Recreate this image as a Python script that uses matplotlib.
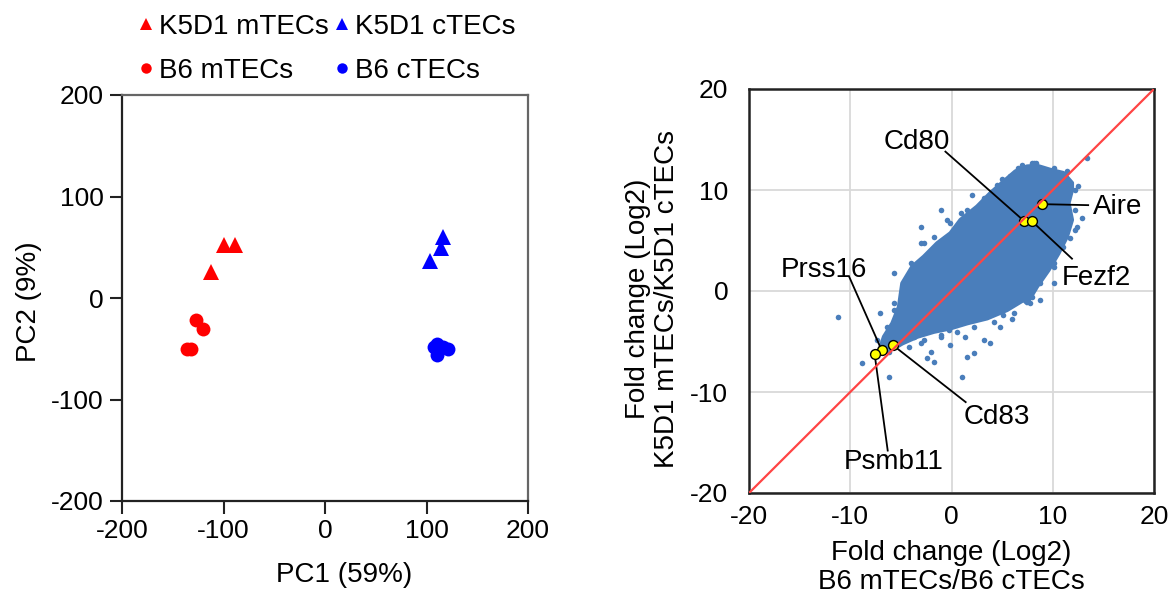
import matplotlib.pyplot as plt

plt.rcParams['font.family'] = ['Liberation Sans', 'DejaVu Sans']
plt.rcParams['axes.unicode_minus'] = False

# PCA scores per sample
k5d1_mtec_pc1 = [-100, -89, -112]
k5d1_mtec_pc2 = [52, 52, 26]
k5d1_ctec_pc1 = [116, 114, 103]
k5d1_ctec_pc2 = [60, 49, 36]
b6_mtec_pc1 = [-127, -120, -136, -132]
b6_mtec_pc2 = [-22, -31, -50, -50]
b6_ctec_pc1 = [110, 121, 110, 116, 107]
b6_ctec_pc2 = [-45, -50, -56, -48, -48]

# dense core of the fold-change cloud (outline, log2 units)
cloud_x = [-7.0, -6.67, -5.84, -5.19, -4.86, -3.87, -2.73, -1.41, -0.1, 0.89, 2.53, 3.84,
           5.15, 6.31, 7.46, 8.44, 9.75, 11.06, 11.9, 11.9, 11.56, 11.9, 11.4, 10.57,
           9.59, 8.44, 7.46, 7.12, 5.49, 3.52, 1.55, -0.1, -1.74, -3.38, -4.86, -5.68]
cloud_y = [-5.52, -4.53, -3.2, -1.56, 0.76, 2.41, 3.4, 4.73, 5.72, 7.04, 8.36, 9.69,
           10.84, 11.84, 12.33, 12.4, 12.0, 11.68, 10.7, 10.0, 8.7, 7.04, 5.39, 3.74,
           2.08, 0.43, -1.22, -0.89, -1.88, -2.71, -3.2, -3.7, -4.04, -4.53, -5.19, -5.68]

# scattered genes around the core
spread_x = [-3.05, -1.08, 2.04, 5.0, 7.95, 13.37, 12.54, 12.88, 12.38, -5.68, -4.04,
            -2.73, -0.1, 0.89, 8.77, 10.08, 11.72, 10.08, 8.11, 7.78, 5.98, -11.2,
            -7.06, -5.68, -8.8, -6.18, -3.05, -2.07, -1.74, -2.39, -0.1, 1.38, 1.55,
            2.2, 1.05, 3.18, 3.84, 4.83, -0.27, -1.08, -3.71, 6.6, 8.3, 5.1,
            -3.05, -1.74, -0.42, 1.55, 3.18, 4.5, 5.81, 6.97, 8.11, 10.08, 11.4, 12.22,
            12.22, 12.22, 11.06, 10.08, 8.77, 7.95,
            6.14, 4.17, 2.2, 0.56, -1.08, -2.73, -4.2, -6.18,
            -7.32, -6.33, -5.68]
spread_y = [6.38, 8.04, 9.52, 11.08, 12.67, 13.16, 10.35, 7.21, 6.38, 1.76, 2.75,
            4.73, 6.72, 7.71, -0.89, 0.76, 5.23, 2.75, 0.27, -1.22, -2.81, -2.55,
            -2.15, -1.22, -7.11, -8.56, -5.19, -6.02, -7.01, -6.68, -5.36, -4.53, -6.52,
            -6.18, -8.56, -4.86, -5.13, -3.54, -3.87, -4.53, -4.53, 12.2, 12.7, -2.4,
            4.73, 5.39, 7.04, 8.04, 9.2, 10.5, 11.34, 12.5, 12.67, 12.17, 11.84, 10.02,
            8.04, 6.05, 4.4, 2.41, 0.76, -0.57,
            -2.21, -3.05, -3.54, -4.04, -4.37, -4.86, -5.52, -6.02,
            -4.86, -3.54, -1.88]

# highlighted genes
genes = ['Aire', 'Cd80', 'Fezf2', 'Prss16', 'Psmb11', 'Cd83']
gene_x = [8.9, 7.2, 7.95, -6.9, -7.6, -5.8]
gene_y = [8.6, 6.9, 6.9, -5.85, -6.2, -5.35]
label_x = [16.4, -3.4, 14.35, -12.6, -5.7, 4.5]
label_y = [8.35, 14.8, 1.25, 2.1, -16.9, -12.5]
leader_x = [13.5, -0.6, 11.9, -10.1, -6.3, 1.4]
leader_y = [8.5, 13.8, 3.2, 1.4, -15.8, -11.0]

fig = plt.figure(figsize=(11.68, 5.97), dpi=100)
ax1 = fig.add_axes([122 / 1168, 1 - 501 / 597, 406 / 1168, 406 / 597])
ax2 = fig.add_axes([749 / 1168, 1 - 493 / 597, 405 / 1168, 404 / 597])

# ---- PCA panel ----
red, blue = '#ff0000', '#0000ff'
h_km, = ax1.plot(k5d1_mtec_pc1, k5d1_mtec_pc2, '^', color=red, ms=11, mew=0, ls='none', label='K5D1 mTECs')
h_kc, = ax1.plot(k5d1_ctec_pc1, k5d1_ctec_pc2, '^', color=blue, ms=11, mew=0, ls='none', label='K5D1 cTECs')
h_bm, = ax1.plot(b6_mtec_pc1, b6_mtec_pc2, 'o', color=red, ms=10, mew=0, ls='none', label='B6 mTECs')
h_bc, = ax1.plot(b6_ctec_pc1, b6_ctec_pc2, 'o', color=blue, ms=10, mew=0, ls='none', label='B6 cTECs')

ax1.set_xlim(-200, 200)
ax1.set_ylim(-200, 200)
ax1.set_xticks(range(-200, 201, 100))
ax1.set_yticks(range(-200, 201, 100))
for side in ['left', 'bottom']:
    ax1.spines[side].set_color('#222222')
    ax1.spines[side].set_linewidth(1.6)
for side in ['top', 'right']:
    ax1.spines[side].set_color('#666666')
    ax1.spines[side].set_linewidth(1.6)
ax1.tick_params(direction='out', length=9, width=1.5, pad=4, labelsize=19, color='#222222')
ax1.set_xlabel('PC1 (59%)', fontsize=20)
ax1.set_ylabel('PC2 (9%)', fontsize=20)
ax1.xaxis.set_label_coords(0.547, -0.150)
ax1.yaxis.set_label_coords(-0.197, 0.49)

fig.legend(handles=[h_km, h_bm, h_kc, h_bc], ncol=2, loc='upper left',
           bbox_to_anchor=(138 / 1168, 1 - 14 / 597), frameon=False, fontsize=20,
           handlelength=0.6, handletextpad=0.15, columnspacing=0.2,
           labelspacing=0.65, markerscale=0.75, borderpad=0, borderaxespad=0)

# ---- fold-change panel ----
cloud = '#4a7ebb'
ax2.fill(cloud_x, cloud_y, facecolor=cloud, edgecolor=cloud, lw=3, joinstyle='round', zorder=2)
ax2.scatter(spread_x, spread_y, s=16, color=cloud, lw=0, zorder=2)
for sx, sy, gx, gy in zip(leader_x, leader_y, gene_x, gene_y):
    ax2.plot([sx, gx], [sy, gy], color='black', lw=1.3, zorder=3)
ax2.scatter(gene_x, gene_y, s=50, facecolor='#ffff00', edgecolor='black', lw=1, zorder=4)
ax2.plot([-20, 20], [-20, 20], color='#ff4444', lw=1.6, zorder=5)
for name, lx, ly in zip(genes, label_x, label_y):
    ax2.text(lx, ly, name, ha='center', va='center', fontsize=20, zorder=6)

ax2.set_xlim(-20, 20)
ax2.set_ylim(-20, 20)
ax2.set_xticks(range(-20, 21, 10))
ax2.set_yticks(range(-20, 21, 10))
ax2.grid(color='#d9d9d9', lw=1.3)
ax2.set_axisbelow(True)
for side in ax2.spines.values():
    side.set_color('#222222')
    side.set_linewidth(1.8)
ax2.tick_params(length=0, labelsize=19)
ax2.tick_params(axis='y', pad=15)
ax2.tick_params(axis='x', pad=9)
ax2.set_xlabel('Fold change (Log2)\nB6 mTECs/B6 cTECs', fontsize=20, linespacing=1.15)
ax2.set_ylabel('Fold change (Log2)\nK5D1 mTECs/K5D1 cTECs', fontsize=20, linespacing=1.15)
ax2.xaxis.set_label_coords(0.5, -0.116)
ax2.yaxis.set_label_coords(-0.170, 0.48)

fig.savefig('out.png', dpi=100)
